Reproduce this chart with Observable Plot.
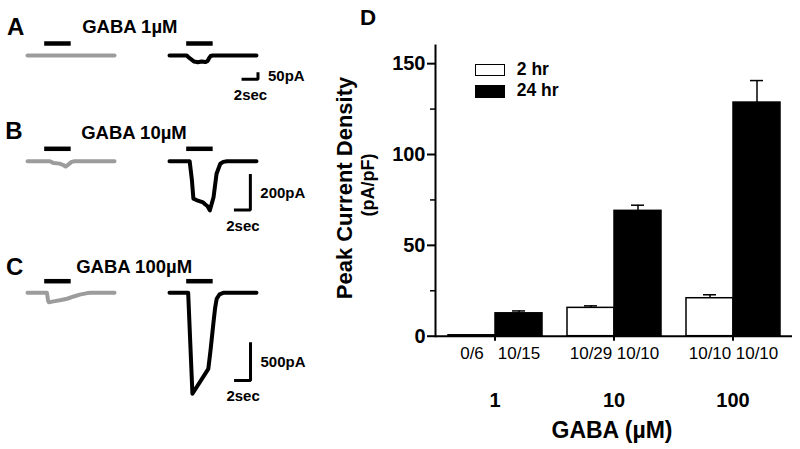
<!DOCTYPE html>
<html>
<head>
<meta charset="utf-8">
<script src="https://cdn.jsdelivr.net/npm/d3@7"></script>
<script src="https://cdn.jsdelivr.net/npm/@observablehq/plot@0.6"></script>
<style>
  html, body { margin: 0; padding: 0; background: #fff; }
  #root { position: relative; width: 800px; height: 449px; overflow: hidden;
          font-family: "Liberation Sans", Arial, sans-serif; color: #000; }
  .abs { position: absolute; white-space: nowrap; line-height: 1; font-weight: bold; }
  .chart { position: absolute; font-weight: normal; }
  .chart svg { display: block; overflow: visible; }
</style>
</head>
<body>
<div id="root"></div>
<script>
// ---------------- DATA ----------------
const conditions = ["2 hr", "24 hr"];
const panelLetters = ["A", "B", "C"];
const panelTitles = ["GABA 1µM", "GABA 10µM", "GABA 100µM"];
const scaleBarPA = [50, 200, 500];
const scaleBarSec = 2;
const gabaOnOff = [2.3, 5.85]; // s, GABA application window

// current traces: [time (s), current (pA)]
const traceA2hr = [[0, 0], [11.65, 0]];
const traceA24hr = [[0, 0], [2.3, 0], [2.6, -20], [3.0, -40], [3.3, -55], [3.8, -62], [4.3, -55], [4.8, -60], [5.1, -50], [5.3, -25], [5.5, -5], [5.8, 0], [11.65, 0]];
const traceB2hr = [[0, 0], [3.0, 0], [3.5, -11], [4.3, -14], [4.8, -22], [5.1, -31], [5.5, -18], [5.9, -4], [6.3, 0], [11.65, 0]];
const traceB24hr = [[0, 0], [2.7, 0], [3.0, -109], [3.2, -217], [3.6, -225], [4.1, -233], [4.5, -239], [4.8, -251], [5.1, -261], [5.4, -285], [5.9, -209], [6.3, -73], [6.8, -15], [7.2, -4], [7.7, 0], [11.65, 0]];
const traceC2hr = [[0, 0], [2.6, 0], [2.75, -106], [2.85, -128], [3.5, -117], [4.5, -99], [5.3, -81], [6.2, -50], [7.0, -25], [8.0, -4], [8.5, 0], [11.65, 0]];
const traceC24hr = [[0, 0], [2.5, 0], [3.07, -1376], [5.2, -1036], [5.5, -779], [5.87, -422], [6.1, -213], [6.32, -81], [6.7, -21], [7.2, 0], [11.65, 0]];

// panel D: peak current density (pA/pF)
const concentrations = ["1", "10", "100"];
const density2hr = [0.5, 15.6, 20.9];
const sem2hr = [0, 1.1, 1.9];
const density24hr = [12.6, 69.0, 128.6];
const sem24hr = [1.3, 3.1, 12.1];
const nCells2hr = ["0/6", "10/29", "10/10"];
const nCells24hr = ["10/15", "10/10", "10/10"];
const yTicksD = [0, 50, 100, 150];
const yMinorTicksD = [25, 75, 125];

// ---------------- STYLE / LAYOUT ----------------
const FONT = "'Liberation Sans', Arial, sans-serif";
const traceColors = ["#9c9c9c", "#000000"];
const barFills = ["#ffffff", "#000000"];
const panelLayout = [
  {top: 30,  mt: 13,   k: 0.11,   barLevel: 109, yMin: -230,  mb: 26, sbEnd: 11.85, sbLow: -215},
  {top: 130, mt: 18.3, k: 0.1725, barLevel: 72,  yMin: -315,  mb: 22, sbEnd: 10.83, sbLow: -283},
  {top: 265, mt: 15.7, k: 0.0734, barLevel: 158, yMin: -1426, mb: 14, sbEnd: 10.85, sbLow: -1195}
];

const root = document.getElementById("root");
function addChart(node, left, top) {
  const d = document.createElement("div");
  d.className = "chart";
  d.style.left = left + "px";
  d.style.top = top + "px";
  d.appendChild(node);
  root.appendChild(d);
  return d;
}
function addText(text, left, top, size, extra = {}) {
  const d = document.createElement("div");
  d.className = "abs";
  d.textContent = text;
  d.style.left = left + "px";
  d.style.top = top + "px";
  d.style.fontSize = size + "px";
  Object.assign(d.style, extra);
  root.appendChild(d);
  return d;
}

// ---------------- PANELS A-C ----------------
const traces = [[traceA2hr, traceA24hr], [traceB2hr, traceB24hr], [traceC2hr, traceC24hr]];
const letterPos = [[7, 14.9], [5.3, 118.6], [6, 255.2]];
const titlePos = [[82.2, 17.6], [81.2, 124.3], [76.2, 257.6]];

panelLayout.forEach((L, p) => {
  const rows = traces[p].flatMap((tr, k) => tr.map(([t, i]) => ({cond: conditions[k], t, i})));
  const sb = [
    {t: L.sbEnd - scaleBarSec, i: L.sbLow},
    {t: L.sbEnd, i: L.sbLow},
    {t: L.sbEnd, i: L.sbLow + scaleBarPA[p]}
  ];
  const frameH = (L.barLevel - L.yMin) * L.k;
  const chart = Plot.plot({
    width: 320,
    height: L.mt + frameH + L.mb,
    marginLeft: 27, marginRight: 63.3, marginTop: L.mt, marginBottom: L.mb,
    style: {fontFamily: FONT, background: "transparent", color: "#000"},
    fx: {domain: conditions, paddingInner: 0.386, paddingOuter: 0, axis: null},
    x: {domain: [0, 11.65], axis: null},
    y: {domain: [L.yMin, L.barLevel], axis: null},
    color: {domain: conditions, range: traceColors},
    marks: [
      Plot.ruleY(conditions, {fx: d => d, y: L.barLevel, x1: gabaOnOff[0], x2: gabaOnOff[1], stroke: "#000", strokeWidth: 4.5}),
      Plot.line(rows, {fx: "cond", x: "t", y: "i", stroke: "cond", strokeWidth: 4, strokeLinejoin: "round", strokeLinecap: "round"}),
      Plot.line(sb, {fx: () => conditions[1], x: "t", y: "i", stroke: "#000", strokeWidth: 3, strokeLinejoin: "miter", strokeLinecap: "square"}),
      Plot.text([scaleBarPA[p]], {fx: () => conditions[1], x: L.sbEnd, y: L.sbLow + scaleBarPA[p] / 2, text: d => d + "pA", textAnchor: "start", dx: 10, fontSize: 15, fontWeight: "bold", fill: "#000"}),
      Plot.text([scaleBarSec], {fx: () => conditions[1], x: L.sbEnd - scaleBarSec / 2, y: L.sbLow, text: d => d + "sec", dy: 16, fontSize: 15, fontWeight: "bold", fill: "#000"})
    ]
  });
  addChart(chart, 0, L.top);
  addText(panelLetters[p], letterPos[p][0], letterPos[p][1], 24);
  addText(panelTitles[p], titlePos[p][0], titlePos[p][1], 18.5);
});

// ---------------- PANEL D ----------------
const rowsD = concentrations.flatMap((c, k) => [
  {conc: c, cond: conditions[0], v: density2hr[k], e: sem2hr[k], n: nCells2hr[k]},
  {conc: c, cond: conditions[1], v: density24hr[k], e: sem24hr[k], n: nCells24hr[k]}
]);
const withErr = rowsD.filter(d => d.e > 0);

const chartD = Plot.plot({
  width: 480, height: 449,
  marginLeft: 115, marginRight: 7.3, marginTop: 45, marginBottom: 113.3,
  style: {fontFamily: FONT, background: "transparent", color: "#000"},
  fx: {domain: concentrations, paddingInner: 0, paddingOuter: 0, label: null},
  x: {domain: conditions, paddingInner: 0, paddingOuter: 0.242, axis: null},
  y: {domain: [0, 160], axis: null},
  color: {domain: conditions, range: barFills},
  marks: [
    Plot.barY(rowsD, {fx: "conc", x: "cond", y: "v", fill: "cond", stroke: "#000", strokeWidth: 1.5}),
    Plot.ruleX(withErr, {fx: "conc", x: "cond", y1: "v", y2: d => d.v + d.e, stroke: "#000", strokeWidth: 1.5}),
    Plot.tickY(withErr, {fx: "conc", x: "cond", y: d => d.v + d.e, insetLeft: 17, insetRight: 17, stroke: "#000", strokeWidth: 1.5}),
    Plot.ruleY([0], {stroke: "#000", strokeWidth: 2}),
    Plot.frame({anchor: "left", facetAnchor: "left", stroke: "#000", strokeWidth: 2}),
    Plot.axisY({ticks: yTicksD, tickSize: 8, tickPadding: 2, fontSize: 20, fontWeight: "bold", label: null, strokeWidth: 2}),
    Plot.axisY({ticks: yMinorTicksD, tickSize: 5, tickFormat: () => "", label: null, strokeWidth: 1.5}),
    Plot.axisFx({anchor: "bottom", tickSize: 5, tickPadding: 52, fontSize: 20, fontWeight: "bold", label: null, strokeWidth: 2}),
    Plot.text(rowsD, {fx: "conc", x: "cond", y: 0, text: "n", dy: 17.6, fontSize: 17, fontWeight: "normal", fill: "#000"})
  ]
});
addChart(chartD, 320, 0);

// text annotations for D
addText("D", 360, 7.1, 22.3);
addText("GABA (µM)", 612, 418.7, 23, {transform: "translateX(-50%)"});
addText("Peak Current Density", 344.5, 187.5, 22, {transform: "translate(-50%,-50%) rotate(-90deg)"});
addText("(pA/pF)", 367.8, 185, 18, {transform: "translate(-50%,-50%) rotate(-90deg)"});

// legend
const legendRows = [
  {top: 64, h: 11.7, textTop: 61},
  {top: 85, h: 12.7, textTop: 82}
];
conditions.forEach((c, k) => {
  const sw = document.createElement("div");
  sw.style.cssText = `position:absolute;left:475px;top:${legendRows[k].top}px;width:30px;height:${legendRows[k].h}px;box-sizing:border-box;border:1.5px solid #000;background:${barFills[k]};`;
  root.appendChild(sw);
  addText(c, 516.8, legendRows[k].textTop, 17.5);
});
</script>
</body>
</html>
